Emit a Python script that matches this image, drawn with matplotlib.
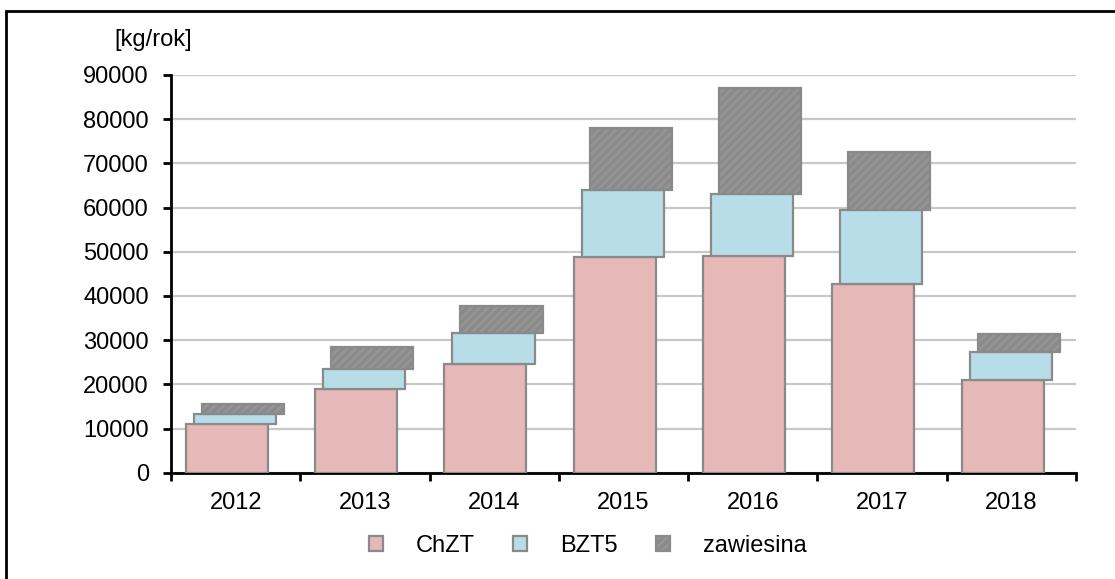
import matplotlib.pyplot as plt
import numpy as np
from matplotlib.patches import Rectangle

plt.rcParams['font.family'] = ['Liberation Sans', 'DejaVu Sans']
plt.rcParams['hatch.linewidth'] = 2.2

years = ['2012', '2013', '2014', '2015', '2016', '2017', '2018']
chzt = [11000, 19000, 24500, 48700, 49000, 42600, 21000]
bzt5 = [2250, 4500, 7100, 15250, 14150, 16800, 6300]
zawiesina = [2250, 5000, 6200, 14150, 24000, 13250, 4100]

x = np.arange(len(years))
w = 0.635
edge = '#8a8a8a'

fig = plt.figure(figsize=(11.15, 5.79), dpi=100)
ax = fig.add_axes([0.1534, 0.1836, 0.965 - 0.1534, 0.8705 - 0.1836])

bottom2 = np.array(chzt)
bottom3 = bottom2 + np.array(bzt5)
ax.bar(x - 0.068, chzt, w, color='#e6b8b7', edgecolor=edge, linewidth=1.6, label='ChZT', zorder=3)
ax.bar(x - 0.006, bzt5, w, bottom=bottom2, color='#b7dee8', edgecolor=edge, linewidth=1.6, label='BZT5', zorder=3)
plt.rcParams['hatch.color'] = '#cccccc'
ax.bar(x + 0.056, zawiesina, w, bottom=bottom3, color='#959595', edgecolor=edge, linewidth=1.6,
       hatch='////', label='zawiesina', zorder=3)

ax.set_xlim(-0.5, len(years) - 0.5)
ax.set_ylim(0, 90000)
ax.set_yticks(np.arange(0, 90001, 10000))
ax.set_xticks(x)
ax.set_xticklabels(years)
ax.set_xticks(np.arange(-0.5, len(years), 1), minor=True)
ax.tick_params(axis='x', which='major', length=0, pad=14, labelsize=17)
ax.tick_params(axis='x', which='minor', length=6, width=2, direction='out')
ax.tick_params(axis='y', length=6, width=2, direction='out', pad=10, labelsize=17)

ax.grid(axis='y', color='#c8c8c8', linewidth=1.6, zorder=0)
ax.set_axisbelow(True)
for s in ['top', 'right']:
    ax.spines[s].set_visible(False)
ax.spines['left'].set_linewidth(2)
ax.spines['bottom'].set_linewidth(2)

fig.text(153 / 1115, 1 - 40 / 579, '[kg/rok]', ha='center', va='center', fontsize=17)

ax.legend(loc='center', bbox_to_anchor=(0.527, 1 - 546 / 579), bbox_transform=fig.transFigure,
          ncol=3, frameon=False, fontsize=17, handlelength=0.58, handleheight=0.58,
          handletextpad=1.4, columnspacing=1.63)

fig.patches.append(Rectangle((5.5 / 1115, -0.1), 1.2, 0.1 + 1 - 10.5 / 579, transform=fig.transFigure,
                             fill=False, edgecolor='black', linewidth=2))

fig.savefig('out.png', dpi=100)
